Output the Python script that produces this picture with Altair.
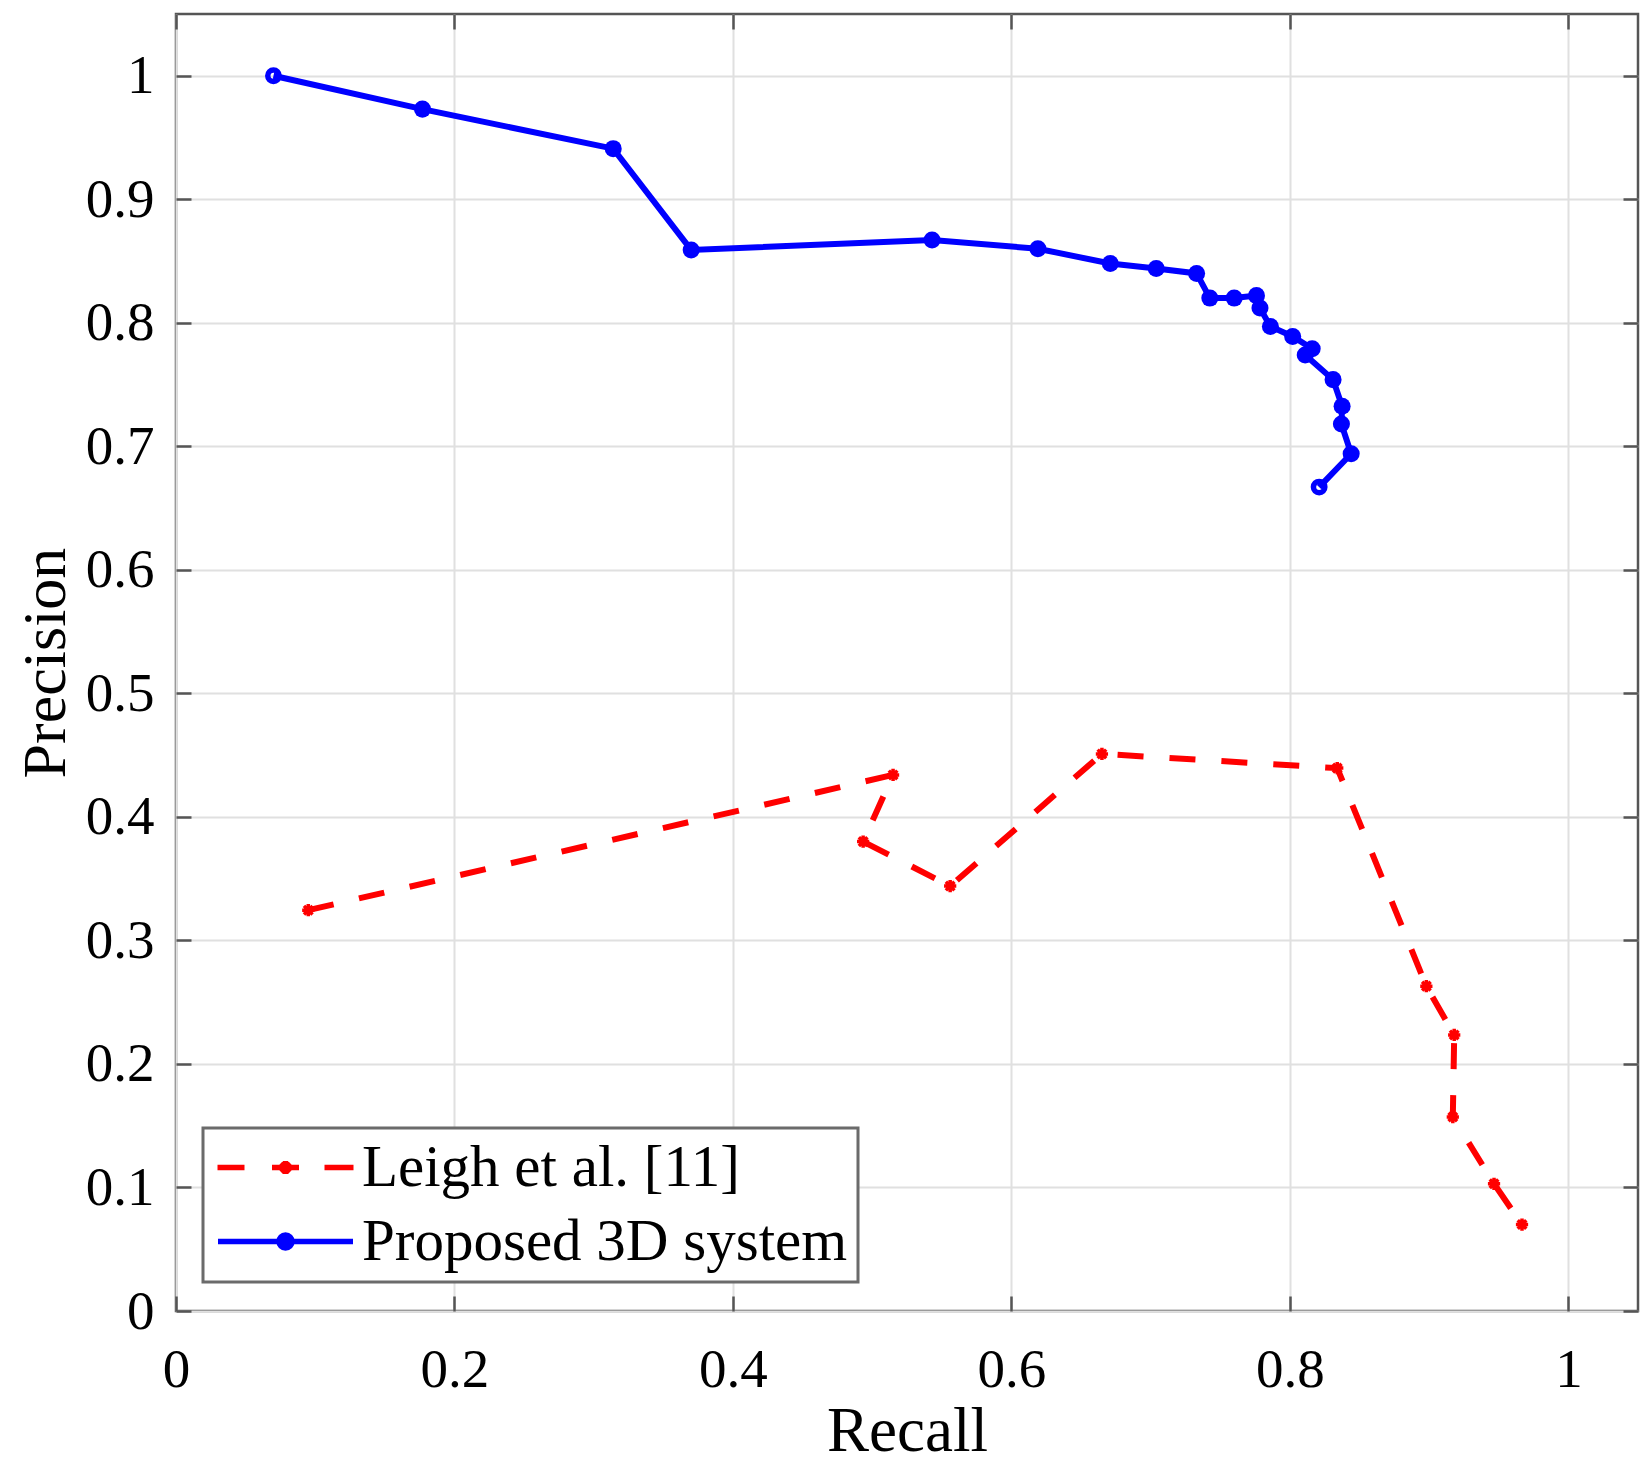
import altair as alt
import pandas as pd

# ---------------- data ----------------
SERIES = ["Leigh et al. [11]", "Proposed 3D system"]

leigh_recall = [0.095, 0.515, 0.4935, 0.556, 0.665, 0.834, 0.898, 0.918, 0.917, 0.9466, 0.9667]
leigh_precision = [0.3245, 0.434, 0.380, 0.344, 0.451, 0.4395, 0.263, 0.2235, 0.157, 0.103, 0.070]

prop_recall = [0.070, 0.177, 0.314, 0.370, 0.543, 0.619, 0.671, 0.704, 0.733, 0.7425,
               0.760, 0.776, 0.7785, 0.786, 0.802, 0.816, 0.811, 0.831, 0.8375, 0.837,
               0.844, 0.821]
prop_precision = [1.000, 0.973, 0.941, 0.859, 0.867, 0.860, 0.848, 0.844, 0.840, 0.820,
                  0.820, 0.822, 0.812, 0.797, 0.789, 0.779, 0.774, 0.754, 0.7325, 0.718,
                  0.694, 0.667]

X_TICKS = [0, 0.2, 0.4, 0.6, 0.8, 1]
Y_TICKS = [0, 0.1, 0.2, 0.3, 0.4, 0.5, 0.6, 0.7, 0.8, 0.9, 1]

rows = []
for i, (r, p) in enumerate(zip(leigh_recall, leigh_precision)):
    rows.append({"series": SERIES[0], "recall": r, "precision": p, "order": i,
                 "is_end": False})
n = len(prop_recall)
for i, (r, p) in enumerate(zip(prop_recall, prop_precision)):
    rows.append({"series": SERIES[1], "recall": r, "precision": p, "order": i,
                 "is_end": i == 0 or i == n - 1})
df = pd.DataFrame(rows)

# ---------------- styles ----------------
FONT = "Liberation Serif"
RED = "#ff0000"
BLUE = "#0000ff"
AXC = "#555555"
GRID = "#e0e0e0"
W, H = 1462, 1297

ASTERISK = "M0,-1V1M-1,0H1M-0.7,-0.7L0.7,0.7M-0.7,0.7L0.7,-0.7"
LEG_RED = ("M-2.72,0H-1.64M-0.54,0H0.54M1.56,0H2.72"
           "M0,-0.26V0.26M-0.26,0H0.26M-0.18,-0.18L0.18,0.18M-0.18,0.18L0.18,-0.18")
LEG_BLUE = ("M-2.70,0H2.70"
            "M0.26,0A0.26,0.26 0 1,1 -0.26,0A0.26,0.26 0 1,1 0.26,0"
            "M0.09,0A0.09,0.09 0 1,1 -0.09,0A0.09,0.09 0 1,1 0.09,0")

XS = alt.Scale(domain=[0, 1.05], nice=False, zero=False)
YS = alt.Scale(domain=[0, 1.05], nice=False, zero=False)
CS = alt.Scale(domain=SERIES, range=[RED, BLUE])
SS = alt.Scale(domain=SERIES, range=[LEG_RED, LEG_BLUE])

x_main = alt.Axis(orient="top", offset=-H, values=X_TICKS, format="~g",
                  labelFont=FONT, labelFontSize=55, labelColor="black",
                  labelPadding=-90, labelBaseline="alphabetic", labelAlign="center",
                  labelFlush=False, labelOverlap=False, labelBound=False,
                  ticks=True, tickSize=15, tickColor=AXC, tickWidth=2.5, domain=False,
                  grid=True, gridColor=GRID, gridWidth=2,
                  title="Recall", titleFont=FONT, titleFontSize=63,
                  titleFontWeight="normal", titleColor="black",
                  titleX=W / 2, titleY=139, titleBaseline="alphabetic",
                  titleAlign="center", titleAngle=0)

y_main = alt.Axis(orient="right", offset=-W, values=Y_TICKS, format="~g",
                  labelFont=FONT, labelFontSize=55, labelColor="black",
                  labelPadding=-37, labelBaseline="middle", labelAlign="right",
                  labelFlush=False, labelOverlap=False, labelBound=False,
                  ticks=True, tickSize=15, tickColor=AXC, tickWidth=2.5, domain=False,
                  grid=True, gridColor=GRID, gridWidth=2,
                  title="Precision", titleFont=FONT, titleFontSize=62,
                  titleFontWeight="normal", titleColor="black",
                  titleX=-112, titleY=H / 2, titleBaseline="alphabetic",
                  titleAlign="center", titleAngle=270)

x_top = alt.Axis(orient="bottom", offset=-H, values=X_TICKS, labels=False,
                 ticks=True, tickSize=15, tickColor=AXC, tickWidth=2.5,
                 domain=False, grid=False, title=None)
y_right = alt.Axis(orient="left", offset=-W, values=Y_TICKS, labels=False,
                   ticks=True, tickSize=15, tickColor=AXC, tickWidth=2.5,
                   domain=False, grid=False, title=None)

leg = alt.Legend(title=None, orient="none", legendX=27, legendY=1114,
                 direction="vertical", fillColor="white", strokeColor="#6b6b6b",
                 padding=10, rowPadding=14,
                 labelFont=FONT, labelFontSize=59, labelColor="black", labelLimit=2000,
                 labelOffset=47, symbolSize=2500, symbolStrokeWidth=5.5, symbolOffset=43)

base = alt.Chart(df)

red_line = base.transform_filter(alt.datum.series == SERIES[0]).mark_line(
    strokeWidth=6, color=RED, strokeDash=[26, 26]
).encode(
    x=alt.X("recall:Q", scale=XS, axis=x_main),
    y=alt.Y("precision:Q", scale=YS, axis=y_main),
    order=alt.Order("order:Q"),
)

blue_line = base.transform_filter(alt.datum.series == SERIES[1]).mark_line(
    strokeWidth=6, color=BLUE
).encode(
    x=alt.X("recall:Q", scale=XS, axis=x_top),
    y=alt.Y("precision:Q", scale=YS, axis=y_right),
    order=alt.Order("order:Q"),
)

blue_pts = base.transform_filter(
    (alt.datum.series == SERIES[1]) & (~alt.datum.is_end)
).mark_circle(size=290, opacity=1, color=BLUE).encode(
    x=alt.X("recall:Q", scale=XS, axis=None),
    y=alt.Y("precision:Q", scale=YS, axis=None),
)

blue_end = base.transform_filter(
    (alt.datum.series == SERIES[1]) & alt.datum.is_end
).mark_point(shape="circle", filled=False, size=130, strokeWidth=5.5,
             opacity=1, color=BLUE).encode(
    x=alt.X("recall:Q", scale=XS, axis=None),
    y=alt.Y("precision:Q", scale=YS, axis=None),
)

red_pts = base.transform_filter(
    alt.datum.series == SERIES[0]
).mark_point(shape=ASTERISK, filled=False, size=150, strokeWidth=3.5,
             opacity=1, color=RED).encode(
    x=alt.X("recall:Q", scale=XS, axis=None),
    y=alt.Y("precision:Q", scale=YS, axis=None),
)

legend_layer = base.transform_filter("false").mark_point(
    filled=False, opacity=1, strokeWidth=5.5
).encode(
    color=alt.Color("series:N", scale=CS, legend=leg),
    shape=alt.Shape("series:N", scale=SS, legend=leg),
)

chart = alt.layer(red_line, blue_line, blue_pts, blue_end, red_pts, legend_layer).properties(
    width=W, height=H,
    autosize=alt.AutoSizeParams(type="none"),
    padding={"left": 168, "top": 6, "right": 4, "bottom": 153},
    background="white",
).configure_view(
    stroke=AXC, strokeWidth=2.5
).configure_legend(
    strokeWidth=3
)

chart.save("out.html", embed_options={"renderer": "svg", "actions": False})
